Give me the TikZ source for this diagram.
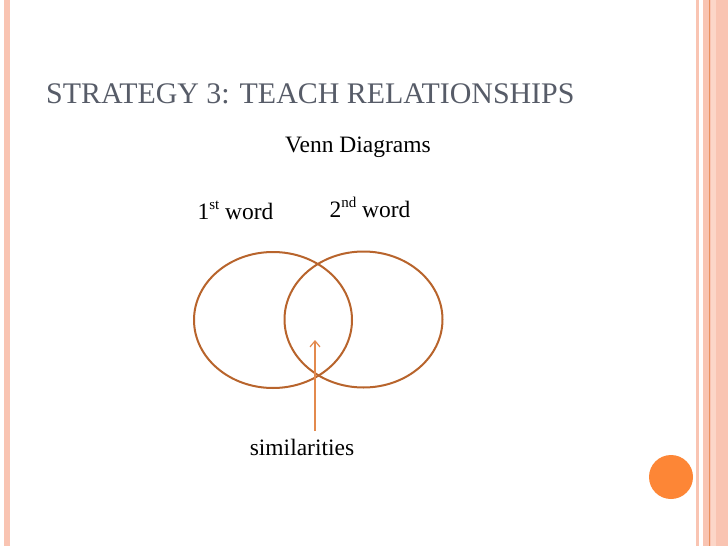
\documentclass[tikz,border=0pt]{standalone}
\usepackage{fontspec}
\setmainfont{Liberation Serif}
\usetikzlibrary{arrows.meta,shapes.geometric}
\definecolor{bandpink}{HTML}{F9C4B2}
\definecolor{bandlight}{HTML}{FCD6C8}
\definecolor{bandline}{HTML}{E9905E}
\definecolor{titlegray}{HTML}{575C68}
\definecolor{vennbrown}{HTML}{B8642C}
\definecolor{arroworange}{HTML}{E38A4E}
\definecolor{dotorange}{HTML}{FD8636}
\newcommand{\mysup}[1]{\raisebox{0.42em}{\fontsize{15}{16}\selectfont #1}}
\tikzset{
  venn/.style={draw=vennbrown, line width=2pt, shape=ellipse, minimum width=158pt, minimum height=136pt, inner sep=0pt},
  lbl/.style={font=\fontsize{23.5}{26}\selectfont, inner sep=0pt, anchor=base},
}
\begin{document}
\begin{tikzpicture}[x=1pt,y=-1pt]
\useasboundingbox (0,0) rectangle (728,546);
\fill[white] (0,0) rectangle (728,546);
% borders
\fill[bandpink] (4,0) rectangle (9.5,546);
\fill[bandpink] (695.5,0) rectangle (699,546);
\fill[bandpink] (703,0) rectangle (728,546);
\fill[bandlight] (711,0) rectangle (716,546);
\fill[bandline] (708.8,0) rectangle (710,546);
% title
\node[font=\fontsize{29.9}{34}\selectfont, text=titlegray, anchor=base west, inner sep=0pt] (title) at (46,103) {STRATEGY 3: TEACH RELATIONSHIPS};
\node[lbl] (venn) at (358,152) {Venn Diagrams};
\node[lbl] (w1) at (235.5,219) {1\mysup{st} word};
\node[lbl] (w2) at (370,217) {2\mysup{nd} word};
% ellipses
\node[venn] (e1) at (273,320) {};
\node[venn] (e2) at (363.5,319.5) {};
\node[lbl] (sim) at (302,455) {similarities};
\coordinate (atip) at (315,340);
\coordinate (abot) at (315,431);
\draw[arroworange, line width=1.2pt, -{Straight Barb[length=6pt,width=10pt,line width=1.2pt]}] (abot) -- (atip);
% dot
\fill[dotorange] (671,477) circle (22);
\end{tikzpicture}
\end{document}
